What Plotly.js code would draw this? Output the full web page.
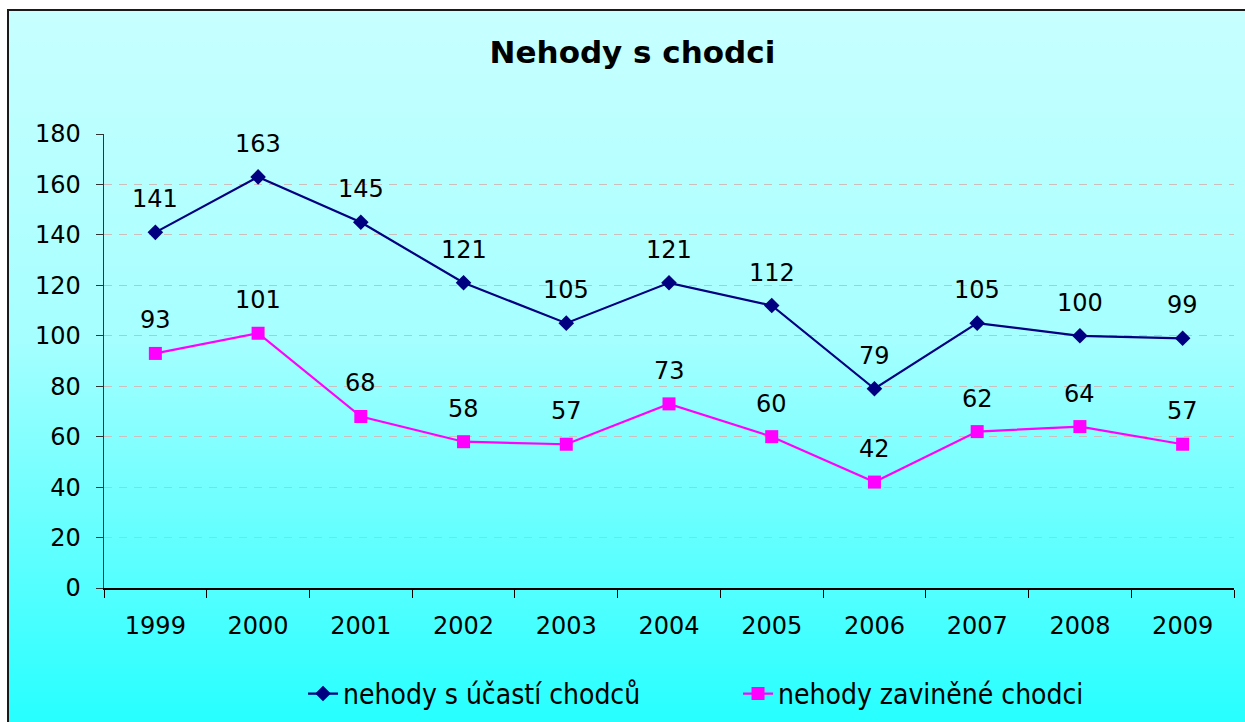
<!DOCTYPE html>
<html>
<head>
<meta charset="utf-8">
<script src="https://cdn.plot.ly/plotly-3.0.1.min.js"></script>
<style>
html,body{margin:0;padding:0;background:#fff;width:1245px;height:722px;overflow:hidden;}
#frame{position:absolute;left:7px;top:9px;width:1250px;height:730px;border:2px solid #1a1a1a;box-sizing:border-box;
background:linear-gradient(to bottom,#C8FFFF 0%,#A6FFFF 45%,#22FFFF 100%);}
#chart{position:absolute;left:0;top:0;width:1245px;height:722px;}
</style>
</head>
<body>
<div id="frame"></div>
<div id="chart"></div>
<script>
const years = ['1999','2000','2001','2002','2003','2004','2005','2006','2007','2008','2009'];
const ucastChodcu = [141,163,145,121,105,121,112,79,105,100,99];
const zavineneChodci = [93,101,68,58,57,73,60,42,62,64,57];
const seriesNames = ['nehody s účastí chodců','nehody zaviněné chodci'];
const yTicks = [0,20,40,60,80,100,120,140,160,180];

const font = 'DejaVu Sans, Verdana, sans-serif';
const traces = [
  {x: years, y: ucastChodcu, name: seriesNames[0], type: 'scatter', mode: 'lines+markers',
   line: {color: '#000080', width: 2.2}, marker: {symbol: 'diamond', size: 12, color: '#000080'}},
  {x: years, y: zavineneChodci, name: seriesNames[1], type: 'scatter', mode: 'lines+markers',
   line: {color: '#FF00FF', width: 2.2}, marker: {symbol: 'square', size: 13, color: '#FF00FF'}}
];
const annotations = [];
[ucastChodcu, zavineneChodci].forEach(function (arr) {
  arr.forEach(function (v, i) {
    annotations.push({xref: 'x', yref: 'y', x: i, y: v, text: String(v), showarrow: false,
      xanchor: 'center', yanchor: 'middle', yshift: 33,
      font: {family: font, size: 24, color: '#000000'}});
  });
});
const layout = {
  width: 1245, height: 722,
  paper_bgcolor: 'rgba(0,0,0,0)', plot_bgcolor: 'rgba(0,0,0,0)',
  margin: {l: 104, r: 11, t: 134, b: 134},
  title: {text: '<b>Nehody s chodci</b>', x: 0.508, xanchor: 'center', y: 0.928, yanchor: 'middle',
    font: {family: font, size: 31, color: '#000'}},
  xaxis: {type: 'category', tickson: 'boundaries', ticks: 'outside', ticklen: 8, tickcolor: '#000',
    showline: true, linecolor: '#000', linewidth: 1.5, showgrid: false, zeroline: false,
    ticklabelstandoff: 16, automargin: false,
    tickfont: {family: font, size: 24, color: '#000'}, range: [-0.5, 10.5]},
  yaxis: {range: [0, 180], tickvals: yTicks, ticks: 'outside', ticklen: 7, tickcolor: '#333',
    showline: true, linecolor: '#333', linewidth: 1.5, showgrid: true, gridcolor: '#CDBEBE',
    griddash: '8px,7px', gridwidth: 1, zeroline: false, ticklabelstandoff: 10, automargin: false,
    tickfont: {family: font, size: 24, color: '#000'}},
  showlegend: true,
  legend: {orientation: 'h', xref: 'container', yref: 'container', x: 0.2434, xanchor: 'left',
    y: 0.039, yanchor: 'middle', entrywidth: 390, entrywidthmode: 'pixels',
    font: {family: 'DejaVu Sans Condensed, DejaVu Sans, sans-serif', size: 28, color: '#000'},
    bgcolor: 'rgba(0,0,0,0)'},
  annotations: annotations
};
Plotly.newPlot('chart', traces, layout, {displayModeBar: false, staticPlot: true});
</script>
</body>
</html>
